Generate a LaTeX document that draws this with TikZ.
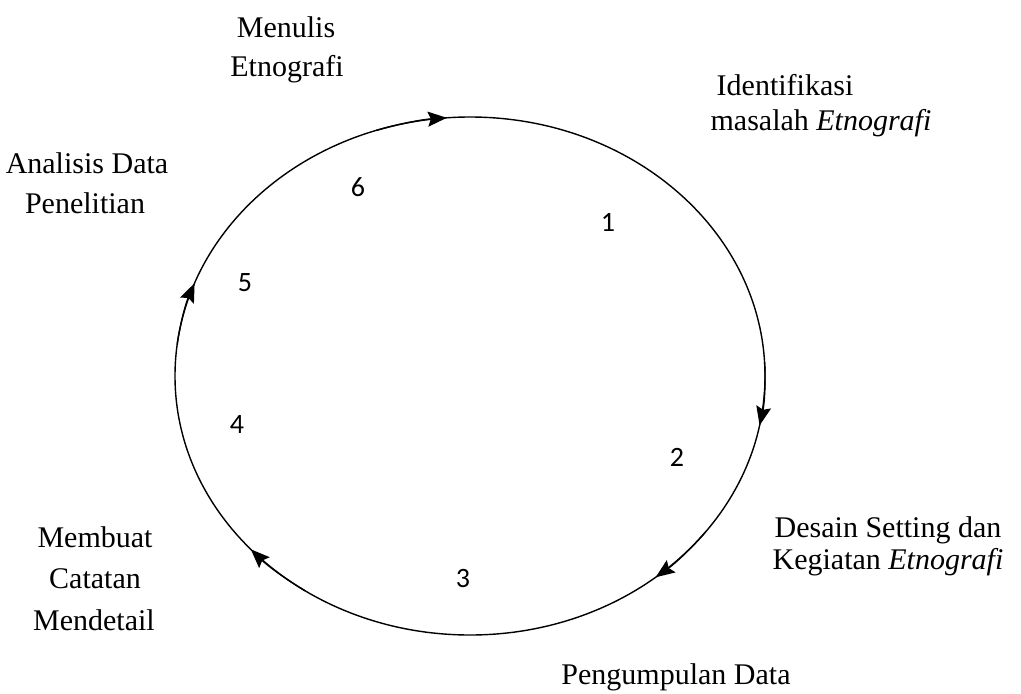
\documentclass[tikz,border=0pt]{standalone}
\usepackage{fontspec}
\setmainfont{Liberation Serif}
\newfontfamily\numfont{Carlito}
\usetikzlibrary{arrows.meta,calc}
\tikzset{
  lbl/.style={anchor=base, inner sep=0pt, font=\fontsize{30}{36}\selectfont},
  num/.style={anchor=center, inner sep=0pt, font=\numfont\fontsize{28}{32}\selectfont},
  cyc/.style={line width=1.4pt, black},
  tip/.style={cyc, -{Stealth[length=19pt, width=15pt, inset=3pt]}}
}
\begin{document}
\begin{tikzpicture}[x=1pt, y=-1pt]
\useasboundingbox (0,0) rectangle (1021,694);
\coordinate (c) at (470,376);
\draw[cyc] (c) ellipse [x radius=295, y radius=259];
% arrowheads along the cycle
\foreach \a in {263.5, 9, 49, 136, 199} {
  \draw[tip] ($(c)+({\a-12}:295 and 259)$) arc[start angle={\a-12}, end angle={\a+2}, x radius=295, y radius=259];
}
% labels
\node[lbl] (m1) at (286,37) {Menulis};
\node[lbl] (m2) at (287,76) {Etnografi};
\node[lbl] (i1) at (785,95) {Identifikasi};
\node[lbl] (i2) at (821,130) {masalah \textit{Etnografi}};
\node[lbl] (a1) at (87,173) {Analisis Data};
\node[lbl] (a2) at (85,213) {Penelitian};
\node[lbl] (d1) at (888,537) {Desain Setting dan};
\node[lbl] (d2) at (888,569) {Kegiatan \textit{Etnografi}};
\node[lbl] (b1) at (95,547) {Membuat};
\node[lbl] (b2) at (95,588) {Catatan};
\node[lbl] (b3) at (94,630) {Mendetail};
\node[lbl] (p1) at (676,684) {Pengumpulan Data};
% step numbers
\node[num] (n1) at (608,222) {1};
\node[num] (n2) at (677,457) {2};
\node[num] (n3) at (463,579) {3};
\node[num] (n4) at (237,425) {4};
\node[num] (n5) at (245,283) {5};
\node[num] (n6) at (358,187) {6};
\end{tikzpicture}
\end{document}
